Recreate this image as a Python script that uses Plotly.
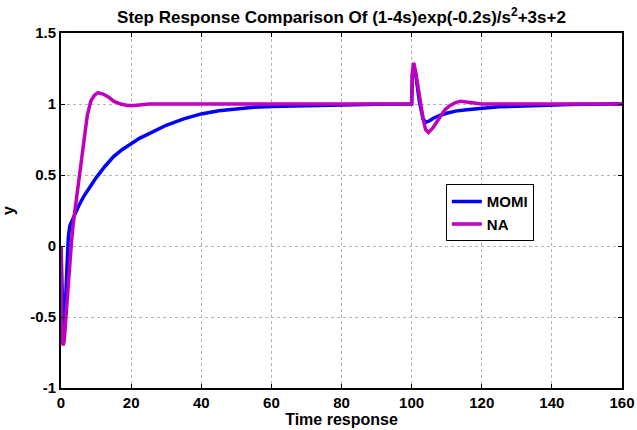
import plotly.graph_objects as go

# MOMI response
t_momi = [0, 0.3, 0.6, 0.9, 1.3, 1.7, 2.1, 2.5, 3.0, 4.0, 5.0, 6.5, 8.0, 10, 12.5, 15, 17.5, 20, 22.5,
          25, 30, 35, 40, 45, 50, 55, 60, 70, 80, 90, 100,
          100.2, 100.6, 101.2, 102.2, 103.2, 104.0, 105.0, 106.2, 108, 110, 112.5, 115.7, 120,
          125, 130, 135, 140, 145, 150, 160]
y_momi = [0, -0.35, -0.58, -0.64, -0.45, -0.15, 0.06, 0.14, 0.17, 0.23, 0.28, 0.35, 0.41, 0.48, 0.56, 0.63, 0.68, 0.72, 0.76,
          0.79, 0.85, 0.895, 0.93, 0.952, 0.967, 0.977, 0.983, 0.99, 0.995, 0.998, 1.0,
          1.2, 1.27, 1.2, 1.02, 0.9, 0.87, 0.88, 0.90, 0.92, 0.935, 0.95, 0.96, 0.97,
          0.98, 0.985, 0.99, 0.993, 0.996, 0.998, 1.0]

# NA response
t_na = [0, 0.02, 0.15, 0.35, 0.6, 0.9, 1.3, 1.7, 2.1, 2.5, 3.0, 3.5, 4.5, 5.5, 6.5, 7.5, 8.5, 9.5, 10.5,
        12, 13.5, 15, 17, 19, 21, 23, 25, 40, 60, 80, 100,
        100.2, 100.6, 101.2, 102.3, 103.3, 104.0, 104.8, 106, 107, 108, 109.5, 111, 112.5, 114, 116, 118, 120,
        140, 160]
y_na = [0, -0.25, -0.52, -0.66, -0.70, -0.67, -0.52, -0.37, -0.22, -0.1, 0.03, 0.16, 0.35, 0.53, 0.76, 0.92, 1.02, 1.06, 1.08,
        1.07, 1.05, 1.02, 1.0, 0.99, 0.99, 0.995, 1.0, 1.0, 1.0, 1.0, 1.0,
        1.22, 1.29, 1.22, 1.03, 0.89, 0.82, 0.80, 0.83, 0.87, 0.91, 0.96, 0.99, 1.01, 1.02, 1.015, 1.005, 1.0,
        1.0, 1.0]

x_ticks = [0, 20, 40, 60, 80, 100, 120, 140, 160]
y_ticks = [-1, -0.5, 0, 0.5, 1, 1.5]
y_tick_labels = ["-1", "-0.5", "0", "0.5", "1", "1.5"]

font_family = "Liberation Sans, Arial, sans-serif"

fig = go.Figure()
fig.add_trace(go.Scatter(x=t_momi, y=y_momi, mode="lines", name="MOMI",
                         line=dict(color="#0000FF", width=3.5)))
fig.add_trace(go.Scatter(x=t_na, y=y_na, mode="lines", name="NA",
                         line=dict(color="#BF00BF", width=3.5)))

axis_common = dict(
    showline=True, linecolor="black", linewidth=2, mirror="ticks",
    ticks="inside", ticklen=4, tickcolor="black", tickwidth=1,
    showgrid=True, gridcolor="#b4b4b4", griddash="dot", gridwidth=1,
    zeroline=False, automargin=False,
    tickfont=dict(family=font_family, size=15, color="black", weight="bold"),
)

fig.update_xaxes(range=[0, 160], tickvals=x_ticks, ticklabelstandoff=0,
                 title=dict(text="<b>Time response</b>", standoff=0,
                            font=dict(family=font_family, size=16, color="black")),
                 **axis_common)
fig.update_yaxes(range=[-1, 1.5], tickvals=y_ticks, ticktext=y_tick_labels,
                 title=dict(text="<b>y</b>", standoff=12,
                            font=dict(family=font_family, size=16, color="black")),
                 **axis_common)

fig.update_layout(
    width=637, height=430,
    margin=dict(l=61, r=15, t=33, b=42, autoexpand=False),
    paper_bgcolor="white", plot_bgcolor="white",
    title=dict(text="<b>Step Response Comparison Of (1-4s)exp(-0.2s)/s<sup>2</sup>+3s+2</b>",
               x=(61 + 622) / 2 / 637, xanchor="center", y=0.96, yanchor="middle",
               font=dict(family=font_family, size=17, color="black")),
    legend=dict(x=0.686, y=0.574, xanchor="left", yanchor="top",
                bgcolor="white", bordercolor="black", borderwidth=1,
                font=dict(family=font_family, size=15, color="black", weight="bold"),
                itemwidth=30, tracegroupgap=0),
    showlegend=True,
)

fig.write_html("out.html", config={"displayModeBar": False},
               post_script="document.body.style.margin='0px';document.body.style.overflow='hidden';")
